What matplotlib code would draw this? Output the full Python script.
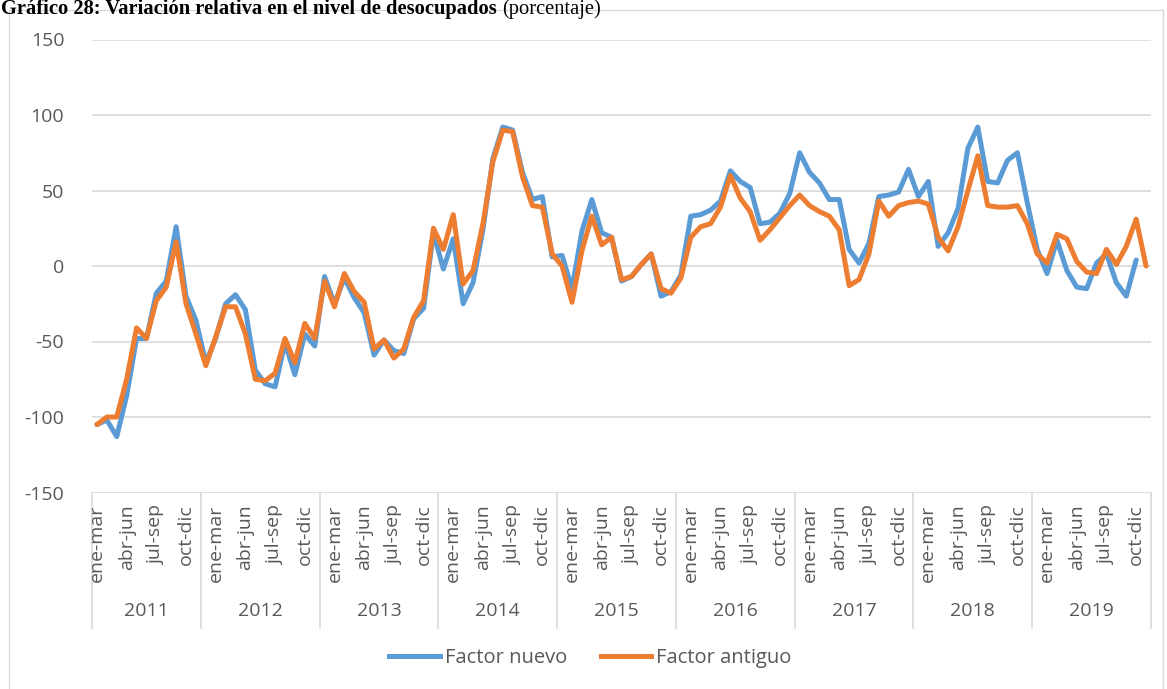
import numpy as np
import matplotlib.pyplot as plt
from matplotlib.lines import Line2D
from matplotlib.patches import Rectangle

# rolling quarters (trimestres moviles); 2011 starts at ene-mar
years = ['2011', '2012', '2013', '2014', '2015', '2016', '2017', '2018', '2019']
n_per_year = [11, 12, 12, 12, 12, 12, 12, 12, 12]
quarters = ['dic-feb', 'ene-mar', 'feb-abr', 'mar-may', 'abr-jun', 'may-jul',
            'jun-ago', 'jul-sep', 'ago-oct', 'sep-nov', 'oct-dic', 'nov-ene']

factor_nuevo = [
    -105, -102, -113, -86, -48, -48, -18, -10, 26, -20, -36,
    -64, -48, -25, -19, -29, -69, -78, -80, -51, -72, -45, -53,
    -7, -25, -8, -21, -31, -59, -49, -56, -58, -35, -28, 22,
    -2, 18, -25, -11, 24, 71, 92, 90, 62, 44, 46, 6,
    7, -15, 23, 44, 22, 19, -10, -7, 1, 8, -20, -17,
    -6, 33, 34, 37, 43, 63, 56, 52, 28, 29, 35, 48,
    75, 62, 55, 44, 44, 11, 2, 15, 46, 47, 49, 64,
    46, 56, 13, 22, 38, 78, 92, 56, 55, 70, 75, 42,
    11, -5, 17, -3, -14, -15, 2, 8, -11, -20, 4, np.nan,
]
factor_antiguo = [
    -105, -100, -100, -75, -41, -48, -23, -14, 16, -25, -45,
    -66, -47, -27, -27, -45, -75, -76, -71, -48, -64, -38, -48,
    -10, -27, -5, -17, -24, -55, -49, -61, -55, -34, -23, 25,
    11, 34, -12, -3, 28, 69, 90, 89, 59, 40, 39, 8,
    0, -24, 10, 33, 14, 19, -9, -7, 1, 8, -15, -18,
    -8, 19, 26, 28, 39, 60, 45, 36, 17, 24, 32, 40,
    47, 40, 36, 33, 24, -13, -9, 8, 43, 33, 40, 42,
    43, 41, 19, 10, 26, 50, 73, 40, 39, 39, 40, 28,
    8, 2, 21, 18, 3, -4, -5, 11, 1, 13, 31, 0,
]

labels = []
for k, n in enumerate(n_per_year):
    q = quarters[1:] if n == 11 else quarters
    labels += q[:n]

x = np.arange(len(labels))
blue = '#5B9BD5'
orange = '#ED7D31'
grid_c = '#D9D9D9'
txt_c = '#595959'
font = 'Open Sans'

fig = plt.figure(figsize=(11.67, 6.89), dpi=100)
W, H = 1167, 689

# chart area border
fig.patches.append(Rectangle((9 / W, -0.1), (1163 - 9) / W, 1.1 - 10 / H,
                             transform=fig.transFigure, fill=False,
                             edgecolor=grid_c, linewidth=1))

ax = fig.add_axes([92 / W, 1 - 492.5 / H, (1151 - 92) / W, (492.5 - 39.5) / H])
ax.plot(x, factor_nuevo, color=blue, lw=3.6, solid_joinstyle='round', solid_capstyle='round')
ax.plot(x, factor_antiguo, color=orange, lw=3.6, solid_joinstyle='round', solid_capstyle='round')

ax.set_xlim(-0.5, len(labels) - 0.5)
ax.set_ylim(-150, 150)
ax.set_yticks(np.arange(-150, 151, 50))
ax.set_yticklabels([str(v) for v in range(-150, 151, 50)], fontfamily=font,
                   fontsize=14, color=txt_c)
ax.tick_params(axis='y', length=0, pad=20)
ax.set_xticks([])
for s in ax.spines.values():
    s.set_visible(False)
ax.grid(axis='y', color=grid_c, lw=1.2)
ax.set_axisbelow(True)

tr = ax.get_xaxis_transform()
for i, lab in enumerate(labels):
    if i % 3 == 0:
        ax.text(i, -0.027, lab, transform=tr, rotation=90, ha='center', va='top',
                fontfamily=font, fontsize=14, color=txt_c)

edges = np.concatenate([[0], np.cumsum(n_per_year)]) - 0.5
for e in edges:
    ax.plot([e, e], [0, -0.30], transform=tr, color=grid_c, lw=1.2, clip_on=False)
for k, yr in enumerate(years):
    ax.text((edges[k] + edges[k + 1]) / 2, -0.262, yr, transform=tr, ha='center',
            va='center', fontfamily=font, fontsize=14, color=txt_c)

handles = [Line2D([], [], color=blue, lw=3.6), Line2D([], [], color=orange, lw=3.6)]
fig.legend(handles, ['Factor nuevo', 'Factor antiguo'], loc='center',
           bbox_to_anchor=(0.506, 1 - 658 / H), ncol=2, frameon=False,
           prop={'family': font, 'size': 14.5}, labelcolor=txt_c,
           handlelength=2.5, handletextpad=0.25, columnspacing=1.7)

# title
t1 = fig.text(1 / W, 1 - 14 / H, 'Gráfico 28: Variación relativa en el nivel de desocupados',
              fontfamily='Liberation Serif', fontweight='bold', fontsize=14.8,
              va='baseline', ha='left')
fig.canvas.draw()
bb = t1.get_window_extent()
fig.text(bb.x1 / W + 5 / W, 1 - 14 / H, '(porcentaje)', fontfamily='Liberation Serif',
         fontsize=14.8, va='baseline', ha='left')

fig.savefig('out.png', dpi=100)
